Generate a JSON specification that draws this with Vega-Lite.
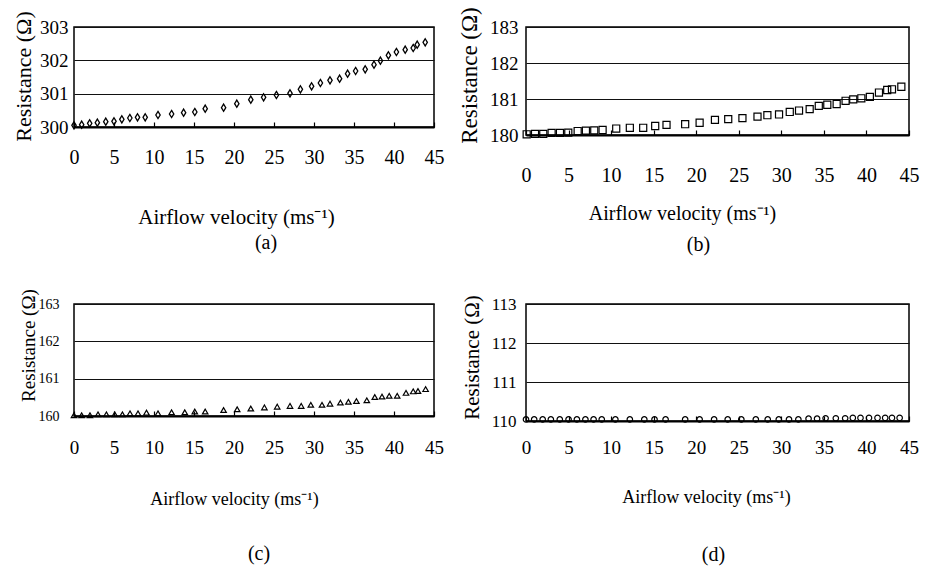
{
  "$schema": "https://vega.github.io/schema/vega-lite/v6.json",
  "background": "white",
  "padding": {"left": 11, "top": 5, "right": 10, "bottom": 10},
  "columns": 2,
  "spacing": {"row": 169, "column": 92},
  "bounds": "flush",
  "config": {
    "font": "Liberation Serif",
    "view": {"stroke": "black", "strokeWidth": 1.5},
    "axis": {
      "labelFont": "Liberation Serif", "titleFont": "Liberation Serif",
      "labelColor": "black", "titleColor": "black", "titleFontWeight": "normal",
      "domainColor": "black", "tickColor": "black", "gridColor": "#111", "gridWidth": 1
    },
    "axisX": {"grid": false, "tickWidth": 1.2},
    "title": {"font": "Liberation Serif", "fontWeight": "normal", "color": "black", "fontSize": 20}
  },
  "datasets": {
    "a": [
      {"v":0,"r":300.05},{"v":0.96,"r":300.07},{"v":1.96,"r":300.11},{"v":2.92,"r":300.13},{"v":3.97,"r":300.16},{"v":5.0,"r":300.17},{"v":5.98,"r":300.23},{"v":6.98,"r":300.27},{"v":7.94,"r":300.29},{"v":8.9,"r":300.29},{"v":10.5,"r":300.36},{"v":12.2,"r":300.39},{"v":13.7,"r":300.43},{"v":15.1,"r":300.45},{"v":16.4,"r":300.55},{"v":18.7,"r":300.58},{"v":20.35,"r":300.70},{"v":22.1,"r":300.82},{"v":23.7,"r":300.89},{"v":25.3,"r":300.96},{"v":27.0,"r":301.01},{"v":28.3,"r":301.13},{"v":29.7,"r":301.22},{"v":30.8,"r":301.32},{"v":32.0,"r":301.40},{"v":33.2,"r":301.45},{"v":34.2,"r":301.60},{"v":35.2,"r":301.68},{"v":36.4,"r":301.73},{"v":37.5,"r":301.87},{"v":38.3,"r":301.99},{"v":39.3,"r":302.15},{"v":40.3,"r":302.25},{"v":41.4,"r":302.32},{"v":42.4,"r":302.37},{"v":42.9,"r":302.47},{"v":43.9,"r":302.54}
    ],
    "b": [
      {"v":0.08,"r":180.02},{"v":1.06,"r":180.03},{"v":2.03,"r":180.03},{"v":3.01,"r":180.06},{"v":3.99,"r":180.06},{"v":4.97,"r":180.065},{"v":6.07,"r":180.11},{"v":7.04,"r":180.12},{"v":8.02,"r":180.13},{"v":9.0,"r":180.14},{"v":10.6,"r":180.18},{"v":12.2,"r":180.2},{"v":13.77,"r":180.2},{"v":15.18,"r":180.25},{"v":16.51,"r":180.28},{"v":18.7,"r":180.3},{"v":20.4,"r":180.34},{"v":22.2,"r":180.42},{"v":23.76,"r":180.44},{"v":25.43,"r":180.47},{"v":27.2,"r":180.51},{"v":28.36,"r":180.55},{"v":29.73,"r":180.57},{"v":30.99,"r":180.64},{"v":32.08,"r":180.68},{"v":33.33,"r":180.72},{"v":34.4,"r":180.81},{"v":35.4,"r":180.84},{"v":36.5,"r":180.86},{"v":37.55,"r":180.95},{"v":38.45,"r":180.99},{"v":39.4,"r":181.02},{"v":40.4,"r":181.06},{"v":41.47,"r":181.18},{"v":42.44,"r":181.25},{"v":43.0,"r":181.27},{"v":44.1,"r":181.34}
    ],
    "c": [
      {"v":0,"r":160.02},{"v":0.96,"r":160.02},{"v":2.0,"r":160.02},{"v":3.0,"r":160.045},{"v":4.05,"r":160.045},{"v":5.09,"r":160.045},{"v":6.05,"r":160.045},{"v":7.0,"r":160.07},{"v":8.0,"r":160.07},{"v":9.06,"r":160.09},{"v":10.5,"r":160.07},{"v":12.2,"r":160.1},{"v":13.85,"r":160.1},{"v":15.1,"r":160.12},{"v":16.4,"r":160.12},{"v":18.7,"r":160.16},{"v":20.4,"r":160.18},{"v":22.1,"r":160.2},{"v":23.8,"r":160.23},{"v":25.4,"r":160.25},{"v":27.0,"r":160.27},{"v":28.4,"r":160.27},{"v":29.6,"r":160.3},{"v":31.0,"r":160.3},{"v":32.0,"r":160.33},{"v":33.3,"r":160.36},{"v":34.3,"r":160.38},{"v":35.3,"r":160.4},{"v":36.6,"r":160.42},{"v":37.6,"r":160.51},{"v":38.5,"r":160.52},{"v":39.4,"r":160.54},{"v":40.4,"r":160.54},{"v":41.5,"r":160.62},{"v":42.4,"r":160.66},{"v":43.0,"r":160.67},{"v":43.95,"r":160.72}
    ],
    "d": [
      {"v":0,"r":110.04},{"v":0.96,"r":110.04},{"v":1.96,"r":110.04},{"v":2.92,"r":110.04},{"v":3.97,"r":110.04},{"v":5.0,"r":110.04},{"v":5.98,"r":110.04},{"v":6.98,"r":110.04},{"v":7.94,"r":110.04},{"v":8.9,"r":110.04},{"v":10.5,"r":110.04},{"v":12.2,"r":110.04},{"v":13.9,"r":110.04},{"v":15.1,"r":110.04},{"v":16.4,"r":110.04},{"v":18.7,"r":110.04},{"v":20.4,"r":110.04},{"v":22.1,"r":110.04},{"v":23.7,"r":110.04},{"v":25.3,"r":110.04},{"v":27.0,"r":110.04},{"v":28.4,"r":110.04},{"v":29.7,"r":110.04},{"v":30.9,"r":110.04},{"v":32.0,"r":110.04},{"v":33.2,"r":110.06},{"v":34.2,"r":110.06},{"v":35.2,"r":110.07},{"v":36.4,"r":110.07},{"v":37.5,"r":110.07},{"v":38.4,"r":110.08},{"v":39.3,"r":110.08},{"v":40.3,"r":110.08},{"v":41.3,"r":110.08},{"v":42.2,"r":110.08},{"v":43.0,"r":110.08},{"v":43.9,"r":110.08}
    ]
  },
  "concat": [
    {
      "width": 360, "height": 100,
      "data": {"name": "a"},
      "mark": {"type": "point", "shape": "M0,-1.3L0.8,0L0,1.3L-0.8,0Z", "filled": false, "stroke": "black", "strokeWidth": 1.3, "size": 30, "opacity": 1},
      "encoding": {
        "x": {"field": "v", "type": "quantitative", "scale": {"domain": [0, 45], "nice": false},
          "axis": {"values": [0,5,10,15,20,25,30,35,40,45], "tickSize": -5, "labelPadding": 35, "labelBaseline": "middle", "labelFontSize": 20, "labelFlush": false, "domainWidth": 2,
            "title": "Airflow velocity (ms⁻¹)", "titleFontSize": 21, "titleX": 162, "titleY": 90, "titleBaseline": "middle"}},
        "y": {"field": "r", "type": "quantitative", "scale": {"domain": [300, 303], "nice": false, "zero": false},
          "axis": {"values": [300,301,302,303], "grid": true, "ticks": false, "domain": false, "labelPadding": 6, "labelFontSize": 19, "labelFlush": false,
            "title": "Resistance (Ω)", "titleFontSize": 22, "titleX": -51, "titleY": 49, "titleBaseline": "middle", "titleAlign": "center", "titleAngle": 270}}
      },
      "title": {"text": "(a)", "orient": "bottom", "anchor": "middle", "frame": "group", "offset": 6, "dx": 12}
    },
    {
      "width": 383, "height": 108,
      "data": {"name": "b"},
      "mark": {"type": "point", "shape": "square", "filled": false, "stroke": "black", "strokeWidth": 1.2, "size": 50, "opacity": 1},
      "encoding": {
        "x": {"field": "v", "type": "quantitative", "scale": {"domain": [0, 45], "nice": false},
          "axis": {"values": [0,5,10,15,20,25,30,35,40,45], "tickSize": -5, "labelPadding": 45, "labelBaseline": "middle", "labelFontSize": 20, "labelFlush": false, "domainWidth": 2,
            "title": "Airflow velocity (ms⁻¹)", "titleFontSize": 20, "titleX": 156, "titleY": 78, "titleBaseline": "middle"}},
        "y": {"field": "r", "type": "quantitative", "scale": {"domain": [180, 183], "nice": false, "zero": false},
          "axis": {"values": [180,181,182,183], "grid": true, "ticks": false, "domain": false, "labelPadding": 8, "labelFontSize": 19, "labelFlush": false,
            "title": "Resistance (Ω)", "titleFontSize": 23, "titleX": -57, "titleY": 48, "titleBaseline": "middle", "titleAlign": "center", "titleAngle": 270}}
      },
      "title": {"text": "(b)", "orient": "bottom", "anchor": "middle", "frame": "group", "offset": 12, "dx": -19}
    },
    {
      "width": 360, "height": 112,
      "data": {"name": "c"},
      "mark": {"type": "point", "shape": "triangle-up", "filled": false, "stroke": "black", "strokeWidth": 1.2, "size": 30, "opacity": 1},
      "encoding": {
        "x": {"field": "v", "type": "quantitative", "scale": {"domain": [0, 45], "nice": false},
          "axis": {"values": [0,5,10,15,20,25,30,35,40,45], "tickSize": -5, "labelPadding": 36, "labelBaseline": "middle", "labelFontSize": 19, "labelFlush": false, "domainWidth": 2,
            "title": "Airflow velocity (ms⁻¹)", "titleFontSize": 18, "titleX": 160, "titleY": 83, "titleBaseline": "middle"}},
        "y": {"field": "r", "type": "quantitative", "scale": {"domain": [160, 163], "nice": false, "zero": false},
          "axis": {"values": [160,161,162,163], "grid": true, "ticks": false, "domain": false, "labelPadding": 15, "labelFontSize": 14, "labelFlush": false,
            "title": "Resistance (Ω)", "titleFontSize": 19, "titleX": -46, "titleY": 41, "titleBaseline": "middle", "titleAlign": "center", "titleAngle": 270}}
      },
      "title": {"text": "(c)", "orient": "bottom", "anchor": "middle", "frame": "group", "offset": 36, "dx": 5}
    },
    {
      "width": 383, "height": 117,
      "data": {"name": "d"},
      "mark": {"type": "point", "shape": "circle", "filled": false, "stroke": "black", "strokeWidth": 1.2, "size": 30, "opacity": 1},
      "encoding": {
        "x": {"field": "v", "type": "quantitative", "scale": {"domain": [0, 45], "nice": false},
          "axis": {"values": [0,5,10,15,20,25,30,35,40,45], "tickSize": -5, "labelPadding": 31, "labelBaseline": "middle", "labelFontSize": 19, "labelFlush": false, "domainWidth": 2,
            "title": "Airflow velocity (ms⁻¹)", "titleFontSize": 18, "titleX": 180, "titleY": 76, "titleBaseline": "middle"}},
        "y": {"field": "r", "type": "quantitative", "scale": {"domain": [110, 113], "nice": false, "zero": false},
          "axis": {"values": [110,111,112,113], "grid": true, "ticks": false, "domain": false, "labelPadding": 10, "labelFontSize": 17, "labelFlush": false,
            "title": "Resistance (Ω)", "titleFontSize": 21, "titleX": -54, "titleY": 53, "titleBaseline": "middle", "titleAlign": "center", "titleAngle": 270}}
      },
      "title": {"text": "(d)", "orient": "bottom", "anchor": "middle", "frame": "group", "offset": 39, "dx": -4}
    }
  ]
}
